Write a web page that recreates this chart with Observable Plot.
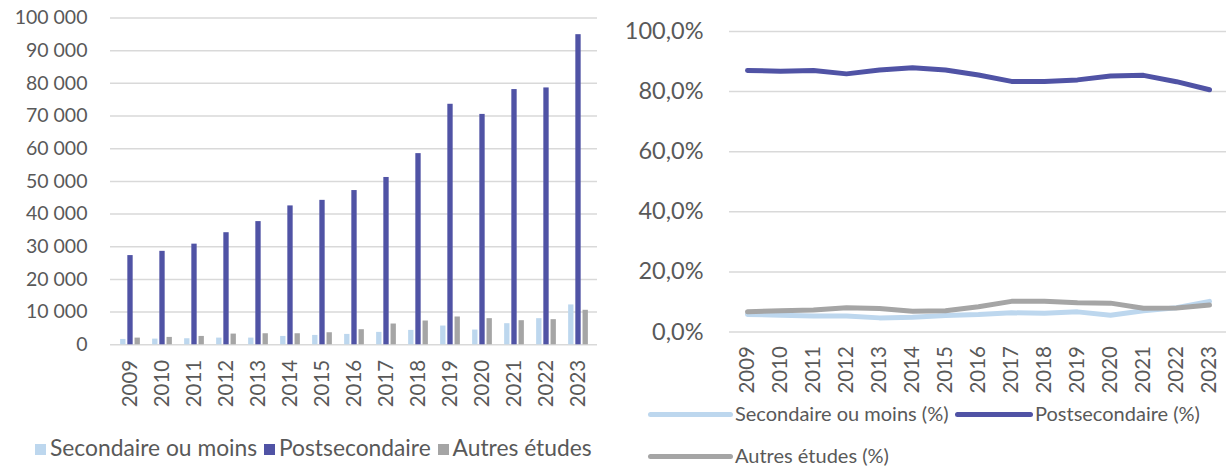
<!DOCTYPE html>
<html>
<head>
<meta charset="utf-8">
<script src="https://cdn.jsdelivr.net/npm/d3@7"></script>
<script src="https://cdn.jsdelivr.net/npm/@observablehq/plot@0.6"></script>
<style>
  body { margin: 0; background: #fff; }
  #wrap { position: relative; width: 1227px; height: 466px; font-family: Lato, "Open Sans", sans-serif; color: #595959; overflow: hidden; }
  #left, #right { position: absolute; top: 0; }
  #left { left: 0; }
  #right { left: 600px; }
  .leg { position: absolute; font-size: 20px; color: #595959; white-space: nowrap; line-height: 1; }
  .sq { display: inline-block; width: 11px; height: 11px; vertical-align: middle; margin-right: 4px; position: relative; top: -1px; }
  .ln { display: inline-block; width: 85px; height: 5px; border-radius: 3px; vertical-align: middle; margin-right: 2px; position: relative; top: -1px; }
</style>
</head>
<body>
<div id="wrap">
  <div id="left"></div>
  <div id="right"></div>
  <div class="leg" style="left:35px; top:436px; font-size:22.8px;">
    <span class="sq" style="background:#BDD7EE"></span>Secondaire ou moins
    <span class="sq" style="background:#5053A5; margin-left:1px"></span>Postsecondaire
    <span class="sq" style="background:#A5A5A5; margin-left:1px"></span>Autres études
  </div>
  <div class="leg" style="left:648px; top:403px;">
    <span class="ln" style="background:#BDD7EE"></span>Secondaire ou moins (%)
  </div>
  <div class="leg" style="left:955px; top:403px;">
    <span class="ln" style="background:#5053A5; width:78px"></span>Postsecondaire (%)
  </div>
  <div class="leg" style="left:648px; top:445px;">
    <span class="ln" style="background:#A5A5A5"></span>Autres études (%)
  </div>
</div>
<script>
const years = ["2009","2010","2011","2012","2013","2014","2015","2016","2017","2018","2019","2020","2021","2022","2023"];
const secondaire = [1640,1740,1850,2050,2050,2560,2870,3180,3800,4410,5740,4510,6460,8000,12200];
const postsecondaire = [27300,28600,30800,34300,37700,42500,44200,47200,51200,58500,73600,70500,78100,78600,94900];
const autres = [2050,2260,2560,3280,3380,3380,3690,4620,6360,7280,8510,8000,7380,7690,10560];
const countTicks = [0,10000,20000,30000,40000,50000,60000,70000,80000,90000,100000];

const pctSecondaire = [5.8,5.6,5.3,5.3,4.7,4.9,5.5,5.8,6.4,6.2,6.7,5.6,7.1,8.1,10.2];
const pctPostsecondaire = [87.0,86.8,87.0,85.9,87.2,87.9,87.2,85.5,83.4,83.4,83.9,85.2,85.4,83.3,80.6];
const pctAutres = [6.7,7.1,7.3,8.1,7.8,6.9,7.1,8.4,10.2,10.2,9.7,9.6,7.9,8.0,9.0];
const pctTicks = [0,20,40,60,80,100];

const C_SEC = "#BDD7EE", C_POST = "#5053A5", C_AUT = "#A5A5A5";
const TXT = "#595959", GRID = "#D9D9D9";

const rows = (vals) => years.map((y, i) => ({year: y, value: vals[i]}));

const bw = 5.8, step = 7.2, band = (597 - 110) / 15;
const inset = (band - bw) / 2;
const barOpts = (fill, dx) => ({x: "year", y: "value", fill, dx, insetLeft: inset, insetRight: inset});

const left = Plot.plot({
  width: 600, height: 420,
  marginLeft: 110, marginRight: 3, marginTop: 17.5, marginBottom: 75.7,
  style: {fontFamily: "Lato, 'Open Sans', sans-serif", fontSize: "19px", color: TXT, background: "transparent"},
  x: {type: "band", domain: years, padding: 0, label: null},
  y: {domain: [0, 100000], label: null},
  marks: [
    Plot.gridY(countTicks, {stroke: GRID, strokeOpacity: 1, strokeWidth: 1.5}),
    Plot.barY(rows(secondaire), barOpts(C_SEC, -step)),
    Plot.barY(rows(postsecondaire), barOpts(C_POST, 0)),
    Plot.barY(rows(autres), barOpts(C_AUT, step)),
    Plot.axisY(countTicks, {tickSize: 0, tickPadding: 23, fill: TXT, fontSize: 19.5, label: null,
      tickFormat: d => d3.format(",")(d).replace(/,/g, " ")}),
    Plot.axisX({tickSize: 0, tickPadding: 15, tickRotate: -90, fill: TXT, fontSize: 20.5, label: null})
  ]
});
document.getElementById("left").appendChild(left);

const right = Plot.plot({
  width: 627, height: 400,
  marginLeft: 129, marginRight: 1, marginTop: 31, marginBottom: 68.5,
  style: {fontFamily: "Lato, 'Open Sans', sans-serif", fontSize: "20px", color: TXT, background: "transparent"},
  x: {type: "point", domain: years, padding: 0.5, label: null},
  y: {domain: [0, 100], label: null},
  marks: [
    Plot.gridY(pctTicks, {stroke: GRID, strokeOpacity: 1, strokeWidth: 1.5}),
    Plot.lineY(rows(pctSecondaire), {x: "year", y: "value", stroke: C_SEC, strokeWidth: 5, strokeLinecap: "round", strokeLinejoin: "round"}),
    Plot.lineY(rows(pctPostsecondaire), {x: "year", y: "value", stroke: C_POST, strokeWidth: 5, strokeLinecap: "round", strokeLinejoin: "round"}),
    Plot.lineY(rows(pctAutres), {x: "year", y: "value", stroke: C_AUT, strokeWidth: 5, strokeLinecap: "round", strokeLinejoin: "round"}),
    Plot.axisY(pctTicks, {tickSize: 0, tickPadding: 26, fill: TXT, fontSize: 23.5, label: null,
      tickFormat: d => d.toFixed(1).replace(".", ",") + "%"}),
    Plot.axisX({tickSize: 0, tickPadding: 14, tickRotate: -90, fill: TXT, fontSize: 20.5, label: null})
  ]
});
document.getElementById("right").appendChild(right);
</script>
</body>
</html>
